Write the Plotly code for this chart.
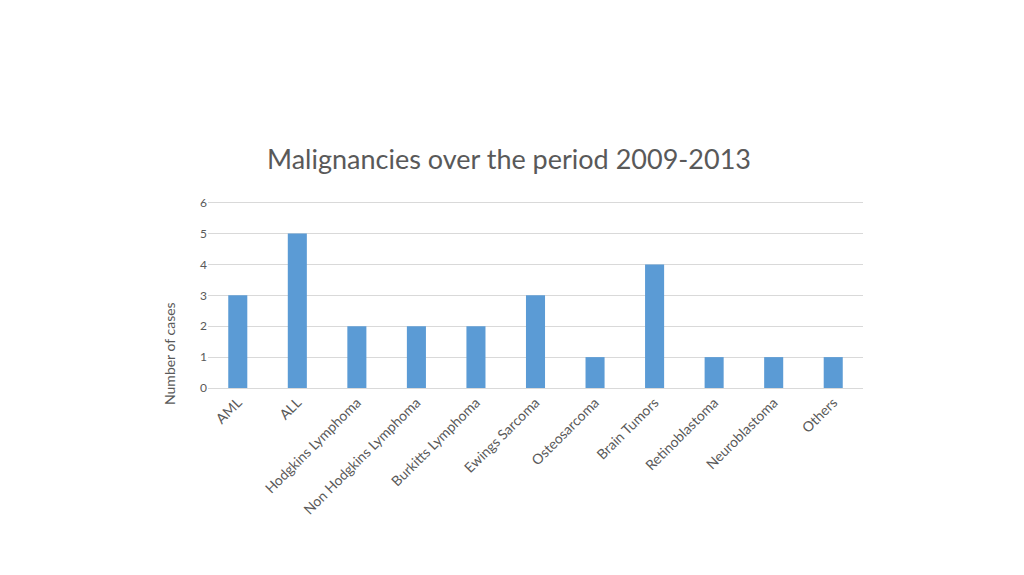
import plotly.graph_objects as go

# Malignancy types and case counts, 2009-2013
categories = ['AML', 'ALL', 'Hodgkins Lymphoma', 'Non Hodgkins Lymphoma', 'Burkitts Lymphoma',
              'Ewings Sarcoma', 'Osteosarcoma', 'Brain Tumors', 'Retinoblastoma', 'Neuroblastoma', 'Others']
cases = [3, 5, 2, 2, 2, 3, 1, 4, 1, 1, 1]
y_ticks = [0, 1, 2, 3, 4, 5, 6]

grey = '#595959'
fig = go.Figure()
fig.add_trace(go.Bar(x=categories, y=cases, marker_color='#5B9BD5', marker_line_width=0))

# page body has an 8px margin, so offsets below are 8px less than on screen
fig.update_layout(
    width=1024, height=575,
    paper_bgcolor='white', plot_bgcolor='white',
    font=dict(family='Lato, Carlito, sans-serif', color=grey),
    title=dict(text='Malignancies over the period 2009-2013', x=(509 - 8) / 1024, xanchor='center',
               y=1 - 152 / 575, yanchor='middle', font=dict(size=27, color=grey)),
    margin=dict(l=200, r=169, t=190, b=195, autoexpand=False),
    bargap=0.68,
    showlegend=False,
)
fig.update_xaxes(tickangle=-45, tickfont=dict(size=14, color=grey), showgrid=False,
                 showline=True, linecolor='#d9d9d9', linewidth=1, ticks='', automargin=False)
fig.update_yaxes(range=[0, 6.15], tickvals=y_ticks, tickfont=dict(size=12, color=grey),
                 showgrid=True, gridcolor='#d9d9d9', gridwidth=1, zeroline=False,
                 showline=False, ticks='', ticklen=0, automargin=False)
# axis title sits lower than the plot centre in the original, so place it by hand
fig.add_annotation(text='Number of cases', textangle=-90, showarrow=False,
                   xref='paper', yref='paper', x=-0.058, y=0.179,
                   xanchor='center', yanchor='middle', font=dict(size=14, color=grey))

fig.write_html("out.html")
